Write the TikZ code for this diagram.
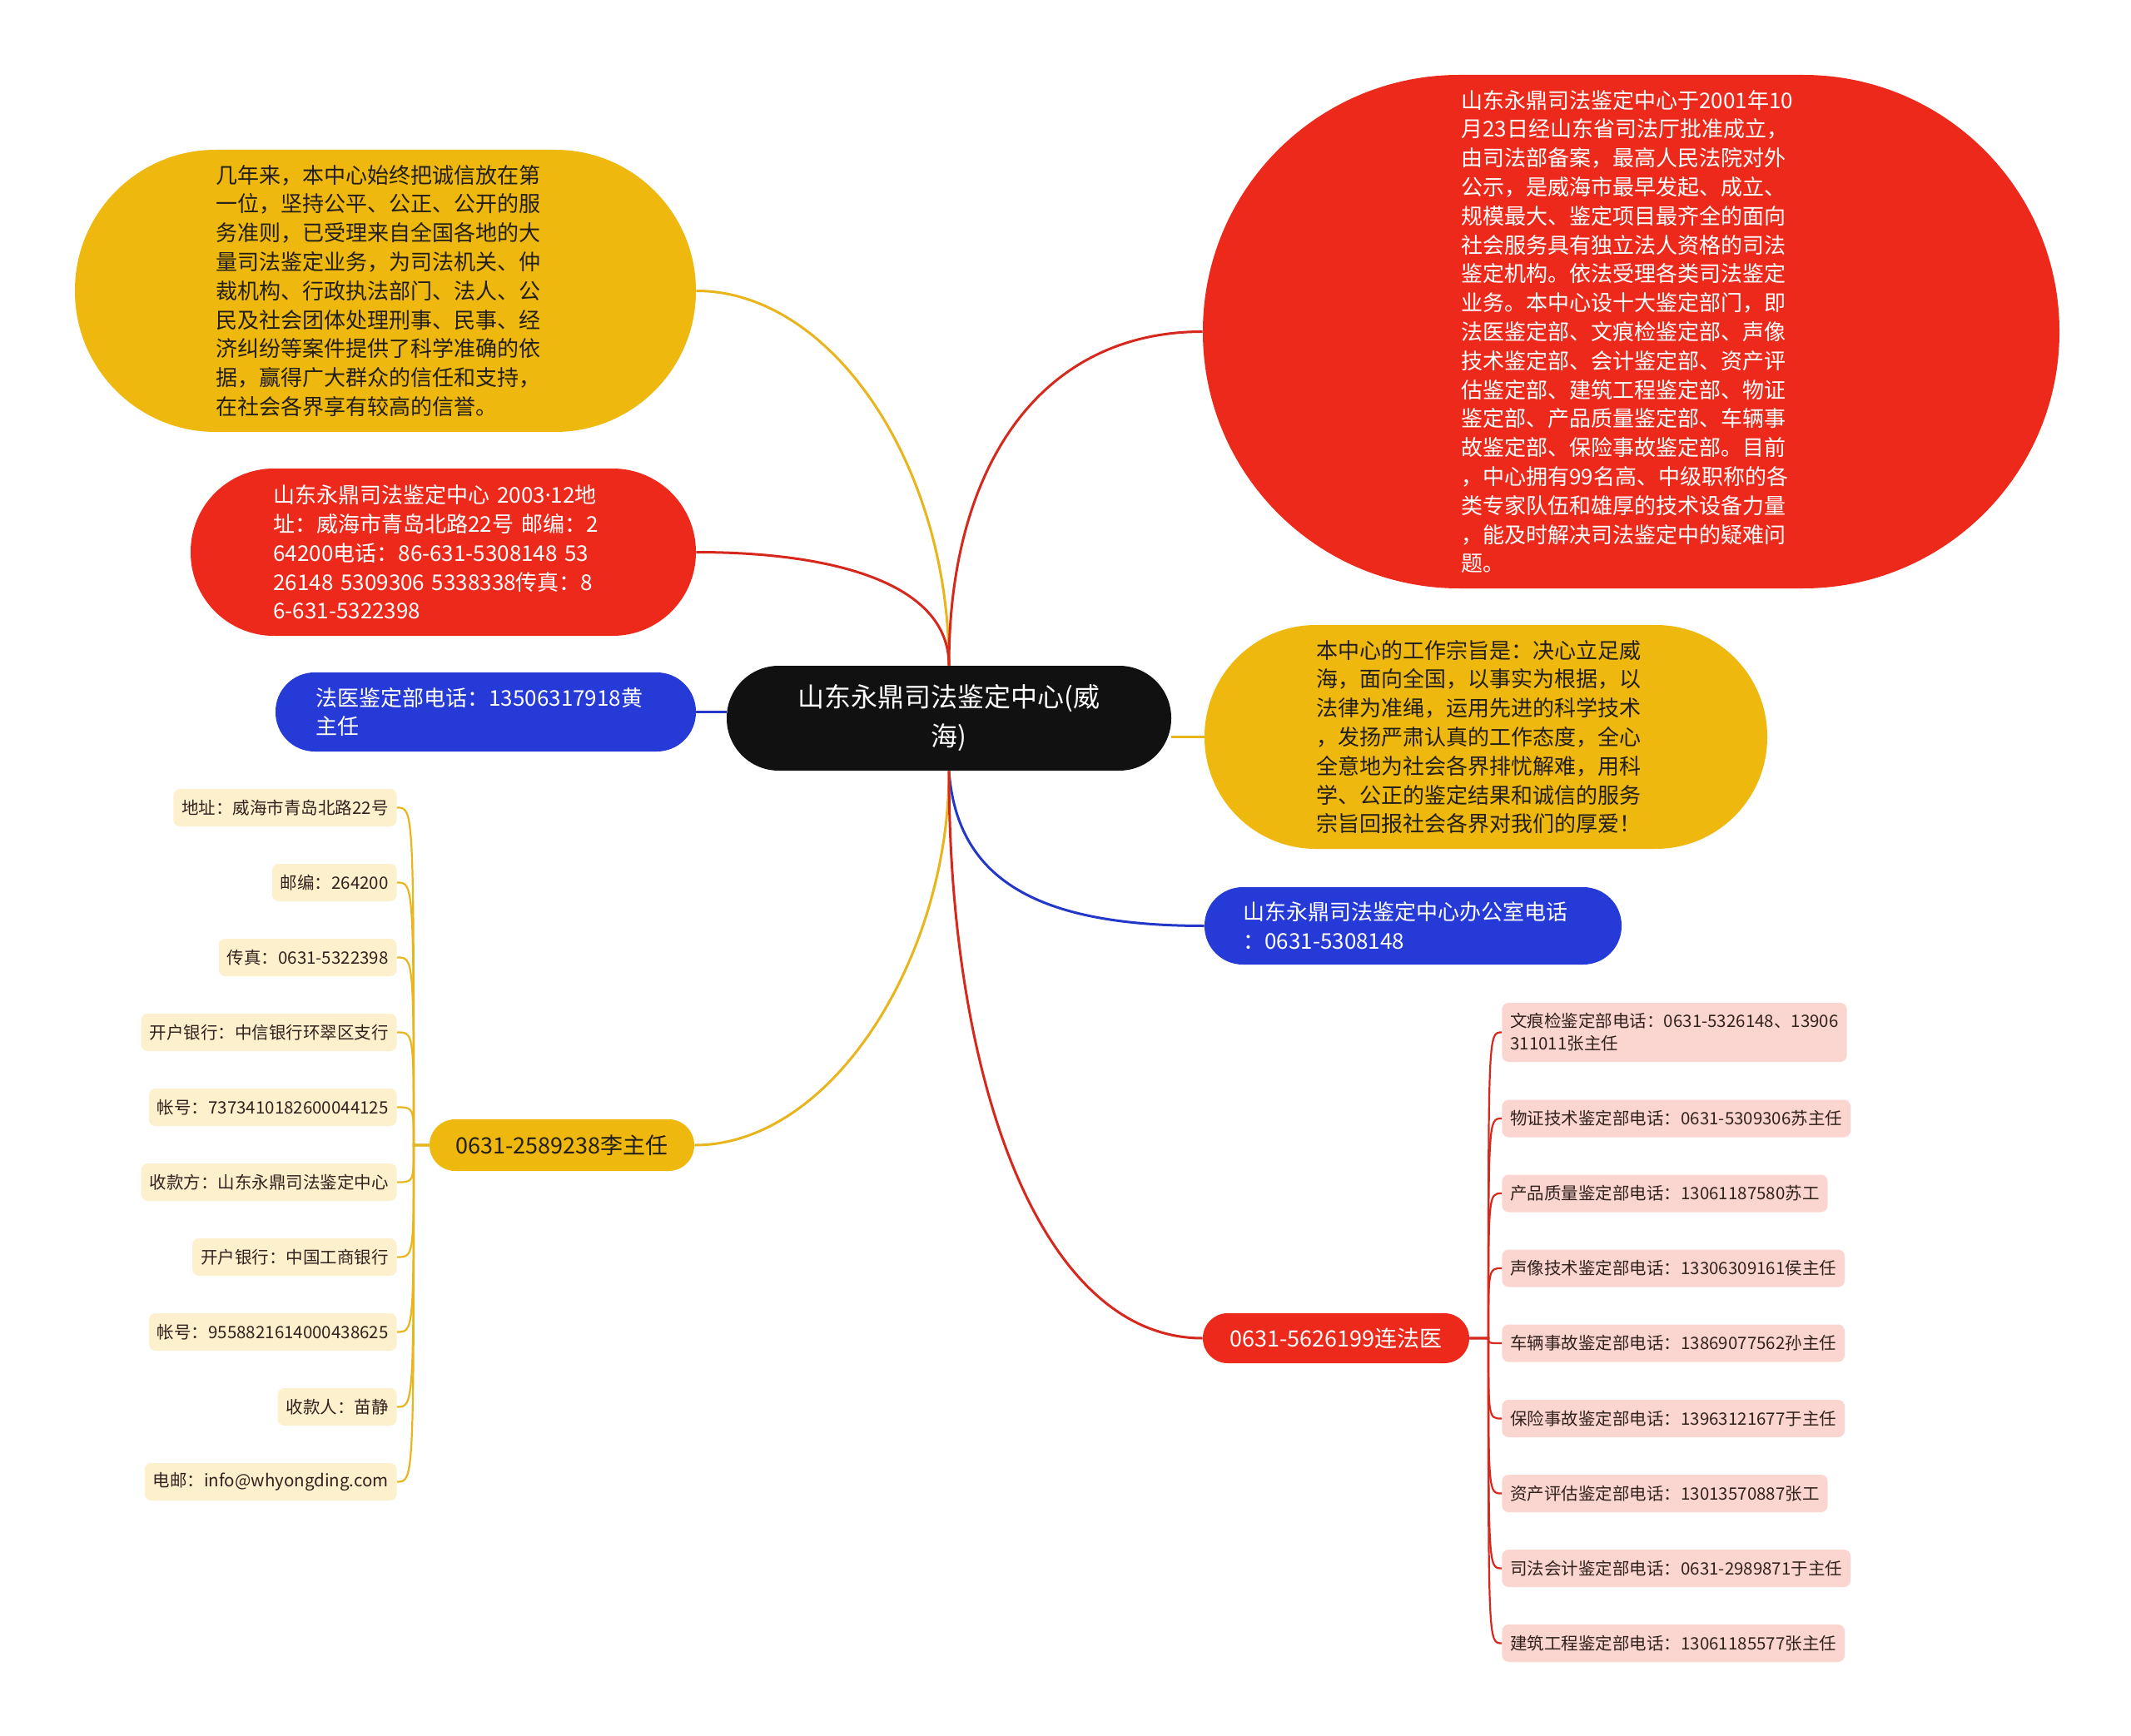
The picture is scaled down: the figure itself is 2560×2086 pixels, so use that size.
\documentclass[tikz,border=0pt]{standalone}
\usepackage{fontspec}
\setmainfont{Noto Sans CJK SC}
\newfontfamily\latinsans{Noto Sans}
\definecolor{cyel}{RGB}{239,184,14}
\definecolor{cred}{RGB}{237,41,27}
\definecolor{cblue}{RGB}{37,58,214}
\definecolor{cblk}{RGB}{17,17,17}
\definecolor{lyel}{RGB}{252,240,205}
\definecolor{lred}{RGB}{251,214,208}
\definecolor{lnyel}{RGB}{232,181,28}
\definecolor{lnred}{RGB}{214,40,28}
\definecolor{lnblue}{RGB}{35,55,200}
\definecolor{tdark}{RGB}{34,30,24}
\definecolor{tleaf}{RGB}{50,34,30}
\begin{document}
\begin{tikzpicture}[x=0.5pt,y=-0.5pt,
  body/.style={align=left, text width=204pt, inner sep=0pt,
    font=\fontsize{13}{17.4}\selectfont},
  hubtxt/.style={align=center, inner sep=0pt,
    font=\fontsize{13.5}{17}\selectfont},
  conn/.style={line width=1.5pt},
  twig/.style={line width=1.1pt},
  lleaf/.style={fill=lyel, rounded corners=4pt, inner xsep=5pt, inner ysep=0pt,
    minimum height=22.5pt, font=\fontsize{10.25}{13.5}\selectfont, text=tleaf, anchor=east},
  rleaf/.style={fill=lred, rounded corners=4pt, inner xsep=5pt, inner ysep=0pt,
    minimum height=22.5pt, font=\fontsize{10.25}{13.5}\selectfont, text=tleaf, anchor=west, align=left}
]
\fill[white] (0,0) rectangle (2560,2086);
\useasboundingbox (0,0) rectangle (2560,2086);

% central topic
\node[fill=cblk, text=white, minimum width=267pt, minimum height=63pt, rounded corners=31.3pt,
  align=center, inner sep=0pt, font=\fontsize{16}{23.5}\selectfont] (c) at (1140,863)
  {山东永鼎司法鉴定中心(威\\海)};

% main branches
\node[body, fill=cyel, text=tdark, minimum width=373pt, minimum height=169.5pt, rounded corners=84.5pt] (n1) at (463,349.5)
{几年来，本中心始终把诚信放在第\\一位，坚持公平、公正、公开的服\\务准则，已受理来自全国各地的大\\量司法鉴定业务，为司法机关、仲\\裁机构、行政执法部门、法人、公\\民及社会团体处理刑事、民事、经\\济纠纷等案件提供了科学准确的依\\据，赢得广大群众的信任和支持，\\在社会各界享有较高的信誉。};

\node[body, fill=cred, text=white, minimum width=303.5pt, minimum height=100.5pt, rounded corners=50pt] (n2) at (532.5,663.5)
{山东永鼎司法鉴定中心 2003{\latinsans ·}12地\\址：威海市青岛北路22号 邮编：2\\64200电话：86-631-5308148 53\\26148 5309306 5338338传真：8\\6-631-5322398};

\node[body, fill=cblue, text=white, minimum width=252.5pt, minimum height=47.5pt, rounded corners=23.5pt] (n3) at (583.5,855.5)
{法医鉴定部电话：13506317918黄\\主任};

\node[body, fill=cred, text=white, minimum width=514.5pt, minimum height=308.5pt, rounded corners=154pt] (n5) at (1959.5,398.5)
{山东永鼎司法鉴定中心于2001年10\\月23日经山东省司法厅批准成立，\\由司法部备案，最高人民法院对外\\公示，是威海市最早发起、成立、\\规模最大、鉴定项目最齐全的面向\\社会服务具有独立法人资格的司法\\鉴定机构。依法受理各类司法鉴定\\业务。本中心设十大鉴定部门，即\\法医鉴定部、文痕检鉴定部、声像\\技术鉴定部、会计鉴定部、资产评\\估鉴定部、建筑工程鉴定部、物证\\鉴定部、产品质量鉴定部、车辆事\\故鉴定部、保险事故鉴定部。目前\\，中心拥有99名高、中级职称的各\\类专家队伍和雄厚的技术设备力量\\，能及时解决司法鉴定中的疑难问\\题。};

\node[body, fill=cyel, text=tdark, minimum width=338pt, minimum height=134.5pt, rounded corners=67pt] (n6) at (1785,885.5)
{本中心的工作宗旨是：决心立足威\\海，面向全国，以事实为根据，以\\法律为准绳，运用先进的科学技术\\，发扬严肃认真的工作态度，全心\\全意地为社会各界排忧解难，用科\\学、公正的鉴定结果和诚信的服务\\宗旨回报社会各界对我们的厚爱！};

\node[body, fill=cblue, text=white, minimum width=250.5pt, minimum height=46.5pt, rounded corners=23pt] (n7) at (1697.5,1112.5)
{山东永鼎司法鉴定中心办公室电话\\：0631-5308148};

\node[hubtxt, fill=cyel, text=tdark, minimum width=159pt, minimum height=31pt, rounded corners=15.4pt] (h4) at (675,1376)
{0631-2589238李主任};

\node[hubtxt, fill=cred, text=white, minimum width=160pt, minimum height=30pt, rounded corners=14.9pt] (h8) at (1605,1608)
{0631-5626199连法医};

% main connectors
\draw[conn, lnyel] (n1.east) .. controls (1000,349.5) and (1140,560) .. (c.north);
\draw[conn, lnred] (n2.east) .. controls (1000,663.5) and (1140,700) .. (c.north);
\draw[conn, lnblue] (n3.east) -- (n3.east -| c.west);
\draw[conn, lnred] (n5.west) .. controls (1250,398.5) and (1140,560) .. (c.north);
\draw[conn, lnyel] (n6.west) -- (n6.west -| c.east);
\draw[conn, lnblue] (c.south) .. controls (1150,1060) and (1250,1112.5) .. (n7.west);
\draw[conn, lnyel] (c.south) .. controls (1140,1150) and (1000,1376) .. (h4.east);
\draw[conn, lnred] (c.south) .. controls (1140,1300) and (1250,1608) .. (h8.west);

% left leaves
\node[lleaf] (l1) at (477,970.5) {地址：威海市青岛北路22号};
\node[lleaf] (l2) at (477,1060.5) {邮编：264200};
\node[lleaf] (l3) at (477,1150.5) {传真：0631-5322398};
\node[lleaf] (l4) at (477,1240.5) {开户银行：中信银行环翠区支行};
\node[lleaf] (l5) at (477,1330.5) {帐号：7373410182600044125};
\node[lleaf] (l6) at (477,1420.5) {收款方：山东永鼎司法鉴定中心};
\node[lleaf] (l7) at (477,1510.5) {开户银行：中国工商银行};
\node[lleaf] (l8) at (477,1600.5) {帐号：9558821614000438625};
\node[lleaf] (l9) at (477,1690.5) {收款人：苗静};
\node[lleaf] (l10) at (477,1780.5) {电邮：info@whyongding.com};

\foreach \n/\y in {l1/970.5,l2/1060.5,l3/1150.5,l4/1240.5,l5/1330.5,l6/1420.5,l7/1510.5,l8/1600.5,l9/1690.5,l10/1780.5}
  \draw[twig, lnyel] (h4.west) -- (497,1376) .. controls (497,\y) .. (\n.east);

% right leaves
\node[rleaf, minimum height=35.5pt] (r1) at (1804,1240.5) {文痕检鉴定部电话：0631-5326148、13906\\311011张主任};
\node[rleaf] (r2) at (1804,1344) {物证技术鉴定部电话：0631-5309306苏主任};
\node[rleaf] (r3) at (1804,1434) {产品质量鉴定部电话：13061187580苏工};
\node[rleaf] (r4) at (1804,1524) {声像技术鉴定部电话：13306309161侯主任};
\node[rleaf] (r5) at (1804,1614) {车辆事故鉴定部电话：13869077562孙主任};
\node[rleaf] (r6) at (1804,1704.5) {保险事故鉴定部电话：13963121677于主任};
\node[rleaf] (r7) at (1804,1794.5) {资产评估鉴定部电话：13013570887张工};
\node[rleaf] (r8) at (1804,1884.5) {司法会计鉴定部电话：0631-2989871于主任};
\node[rleaf] (r9) at (1804,1974.5) {建筑工程鉴定部电话：13061185577张主任};

\foreach \n/\y in {r1/1240.5,r2/1344,r3/1434,r4/1524,r5/1614,r6/1704.5,r7/1794.5,r8/1884.5,r9/1974.5}
  \draw[twig, lnred] (h8.east) -- (1788,1608) .. controls (1788,\y) .. (\n.west);
\end{tikzpicture}
\end{document}
